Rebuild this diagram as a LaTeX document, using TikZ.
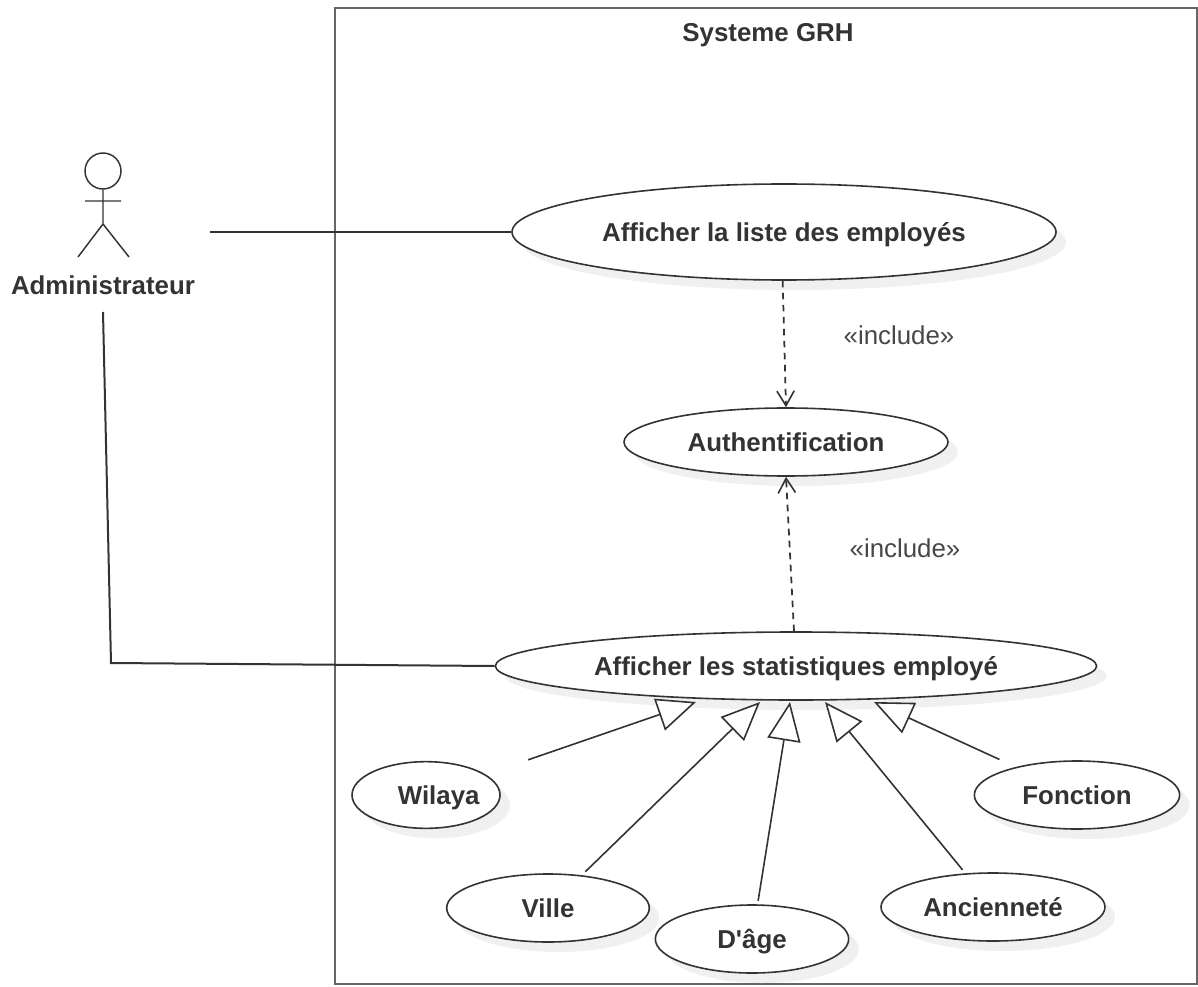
\documentclass[tikz,border=0pt]{standalone}
\usepackage{fontspec}
\setmainfont{Liberation Sans}
\definecolor{InkGray}{RGB}{51, 51, 51}
\definecolor{FrameGray}{RGB}{102, 102, 102}
\definecolor{ShadeGray}{RGB}{240, 240, 240}
\usetikzlibrary{arrows.meta, positioning, shapes, shadows}

\begin{document}
\begin{tikzpicture}[x=0.75pt, y=-0.75pt, every node/.style={font=\fontsize{19.4}{23}\selectfont\bfseries, text=InkGray},
    usecase/.style={draw=InkGray, line width=1.2pt, ellipse, fill=white, inner sep=0pt, text height=16pt, text depth=2pt, drop shadow={shadow xshift=7.5pt, shadow yshift=-7.5pt, fill=ShadeGray, opacity=1}},
    assoc/.style={draw=InkGray, line width=1.5pt},
    incl/.style={draw=InkGray, line width=1.3pt, dash pattern=on 5pt off 4pt, -{Straight Barb[length=11pt, width=13pt, line width=1.2pt]}},
    gener/.style={draw=InkGray, line width=1.2pt, -{Triangle[open, fill=white, length=29pt, width=25pt, line width=1.2pt]}},
    stereo/.style={font=\fontsize{19.4}{23}\selectfont, text=InkGray!90}]
    \useasboundingbox (0,0) rectangle (1198,987);

    \draw[draw=FrameGray, line width=2pt] (335,8) rectangle (1197,984);
    \node (title) at (768,35) {Systeme GRH};

    % actor
    \node[draw=InkGray, line width=1.1pt, circle, minimum size=27pt, inner sep=0pt] (head) at (103,171) {};
    \coordinate (waist) at (103,224);
    \coordinate (handL) at (85,201);
    \coordinate (handR) at (121,201);
    \coordinate (footL) at (78,257);
    \coordinate (footR) at (129,257);
    \draw[draw=InkGray, line width=1.1pt] (head.south) -- (waist) (handL) -- (handR) (footL) -- (waist) -- (footR);
    \node (admin) at (103,285) {Administrateur};
    \coordinate (adminRight) at (210,232);
    \coordinate (adminBelow) at (103,312);
    \coordinate (adminBend) at (111,663);

    % use cases
    \node[usecase, minimum width=408pt, minimum height=72pt] (liste) at (784,232) {Afficher la liste des employés};
    \node[usecase, minimum width=243pt, minimum height=51pt] (auth) at (786,442) {Authentification};
    \node[usecase, minimum width=451pt, minimum height=51pt] (stats) at (796,666) {Afficher les statistiques employé};
    \node[usecase, minimum width=111pt, minimum height=50pt] (wilaya) at (426,795) {\makebox[0pt]{\hspace*{19pt}Wilaya}};
    \node[usecase, minimum width=152pt, minimum height=51pt] (ville) at (548,908) {Ville};
    \node[usecase, minimum width=145pt, minimum height=51pt] (age) at (752,939) {D\textquotesingle âge};
    \node[usecase, minimum width=168pt, minimum height=51pt] (anciennete) at (993,907) {Ancienneté};
    \node[usecase, minimum width=154pt, minimum height=51pt] (fonction) at (1077,795) {Fonction};

    % associations
    \draw[assoc] (adminRight) -- (liste.west);
    \draw[assoc] (adminBelow) -- (adminBend) -- (stats.west);

    % include
    \draw[incl] ([xshift=-1pt]liste.south) -- (auth.north);
    \draw[incl] ([xshift=-1.5pt]stats.north) -- (auth.south);
    \node[stereo] (incA) at (899,335) {«include»};
    \node[stereo] (incB) at (905,548) {«include»};

    % generalisation
    \coordinate (tipWilaya) at (696,702);
    \coordinate (tipVille) at (760,702);
    \coordinate (tipAge) at (790,702);
    \coordinate (tipAnc) at (825,702);
    \coordinate (tipFonction) at (874,702);
    \draw[gener, shorten <=81pt] (wilaya.center) -- (tipWilaya);
    \draw[gener, shorten <=39pt] (ville.center) -- (tipVille);
    \draw[gener, shorten <=29pt] (age.center) -- (tipAge);
    \draw[gener, shorten <=36pt] (anciennete.center) -- (tipAnc);
    \draw[gener, shorten <=64pt] (fonction.center) -- (tipFonction);
\end{tikzpicture}
\end{document}
